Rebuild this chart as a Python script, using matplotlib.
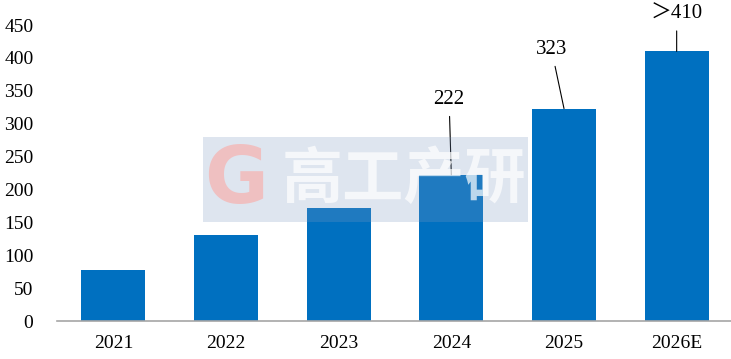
import matplotlib.pyplot as plt
from matplotlib.patches import Rectangle

years = ["2021", "2022", "2023", "2024", "2025", "2026E"]
values = [78, 131, 172, 222, 323, 410]
labels = {3: "222", 4: "323", 5: "＞410"}
# label centres (x, y) in data units for the leader-line annotations
label_pos = {3: (2.98, 336), 4: (3.89, 412), 5: (5.0, 466)}

plt.rcParams['font.family'] = ['Liberation Serif', 'Noto Sans CJK SC', 'DejaVu Serif']

fig = plt.figure(figsize=(7.31, 3.59), dpi=100)
ax = fig.add_axes([57 / 731, 1 - 321 / 359, 676 / 731, 296 / 359])

x = range(len(years))
ax.bar(x, values, width=0.57, color="#0070C0", zorder=2)

for i, txt in labels.items():
    lx, ly = label_pos[i]
    ax.annotate(txt, xy=(i, values[i]), xytext=(lx, ly),
                ha="center", va="center", fontsize=15,
                arrowprops=dict(arrowstyle="-", color="black", lw=0.8,
                                shrinkA=3, shrinkB=0),
                annotation_clip=False, zorder=3)

ax.set_xlim(-0.5, 5.5)
ax.set_ylim(0, 450)
ax.set_yticks(range(0, 451, 50))
ax.set_xticks(list(x))
ax.set_xticklabels(years)
ax.tick_params(axis="both", length=0, labelsize=14)
ax.tick_params(axis="y", pad=17)
ax.tick_params(axis="x", pad=10)
for s in ["top", "right", "left"]:
    ax.spines[s].set_visible(False)
ax.spines["bottom"].set_color("#a6a6a6")
ax.spines["bottom"].set_linewidth(1.2)

# watermark
fig.patches.append(Rectangle((203 / 731, 1 - 222 / 359), 325 / 731, 85 / 359,
                             transform=fig.transFigure, facecolor="#7f9bc3",
                             alpha=0.25, edgecolor="none", zorder=5))
fig.text(236 / 731, 1 - 181 / 359, "G", fontsize=56, color="#f2bcbc",
         ha="center", va="center", fontweight="bold", family="DejaVu Sans",
         alpha=0.9, zorder=6)
fig.text(404 / 731, 1 - 180 / 359, "高工产研", fontsize=44, color="white",
         ha="center", va="center", fontweight="bold",
         family=["Noto Sans CJK SC", "DejaVu Sans"], alpha=0.7, zorder=6)

fig.savefig("out.png", dpi=100)
